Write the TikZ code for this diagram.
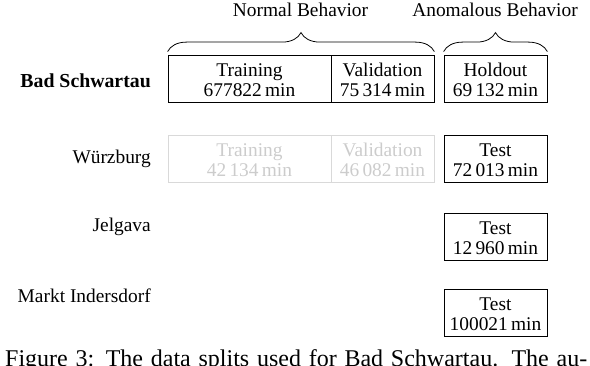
\documentclass[tikz,border=0pt]{standalone}
\usepackage{fontspec}
\setmainfont{Liberation Serif}
\usetikzlibrary{decorations.pathreplacing}
\definecolor{faint}{gray}{0.80}
\definecolor{faintline}{gray}{0.85}
\tikzset{
  fs/.style={font=\fontsize{19.4pt}{20pt}\selectfont},
  splitbox/.style={draw, line width=0.8pt, minimum height=47pt, inner sep=0pt},
  fadedbox/.style={splitbox, draw=faintline},
  boxtext/.style={fs, inner sep=0pt, align=center, yshift=-1.5pt},
  fadedtext/.style={boxtext, text=faint},
  sitelabel/.style={fs, anchor=base east, inner sep=0pt},
  heading/.style={fs, anchor=base, inner sep=0pt},
  bracedeco/.style={decorate, decoration={brace, amplitude=19pt}, line width=0.8pt},
}
\begin{document}
\begin{tikzpicture}[x=1pt, y=-1pt]
\useasboundingbox (0,0) rectangle (590,366);
% headings
\node[heading] (normal) at (300.5,17) {Normal Behavior};
\node[heading] (anom) at (495,17) {Anomalous Behavior};
% row 1
\node[splitbox, minimum width=163pt] (train1) at (249.5,78.5) {};
\node[splitbox, minimum width=103pt] (val1) at (382.5,78.5) {};
\node[splitbox, minimum width=103pt] (hold1) at (495.5,78.5) {};
\node[boxtext] (train1t) at (train1.center) {Training\\677822\,min};
\node[boxtext] (val1t) at (val1.center) {Validation\\75\,314\,min};
\node[boxtext] (hold1t) at (hold1.center) {Holdout\\69\,132\,min};
% row 2
\node[fadedbox, minimum width=163pt] (train2) at (249.5,158.5) {};
\node[fadedbox, minimum width=103pt] (val2) at (382.5,158.5) {};
\node[splitbox, minimum width=103pt] (test2) at (495.5,158.5) {};
\node[fadedtext] (train2t) at (train2.center) {Training\\42\,134\,min};
\node[fadedtext] (val2t) at (val2.center) {Validation\\46\,082\,min};
\node[boxtext] (test2t) at (test2.center) {Test\\72\,013\,min};
% row 3
\node[splitbox, minimum width=103pt] (test3) at (495.5,236.5) {};
\node[boxtext] (test3t) at (test3.center) {Test\\12\,960\,min};
% row 4
\node[splitbox, minimum width=103pt] (test4) at (495.5,312.5) {};
\node[boxtext] (test4t) at (test4.center) {Test\\100021\,min};
% site labels
\node[sitelabel, font=\fontsize{19.8pt}{21pt}\selectfont\bfseries] (bad) at (151,87.5) {Bad Schwartau};
\node[sitelabel] (wurz) at (151,164) {Würzburg};
\node[sitelabel] (jel) at (151,232) {Jelgava};
\node[sitelabel] (markt) at (151,303) {Markt Indersdorf};
% braces
\draw[bracedeco] ([yshift=3pt]train1.north west) -- ([yshift=3pt]val1.north east);
\draw[bracedeco] ([yshift=3pt]hold1.north west) -- ([yshift=3pt]hold1.north east);
% caption (cut off at the bottom, as in the reference)
\node[anchor=base west, inner sep=0pt, font=\fontsize{24pt}{28pt}\selectfont] (cap) at (5,367)
  {\makebox[582pt][s]{Figure 3: The data splits used for Bad Schwartau. The au-}};
\end{tikzpicture}
\end{document}
